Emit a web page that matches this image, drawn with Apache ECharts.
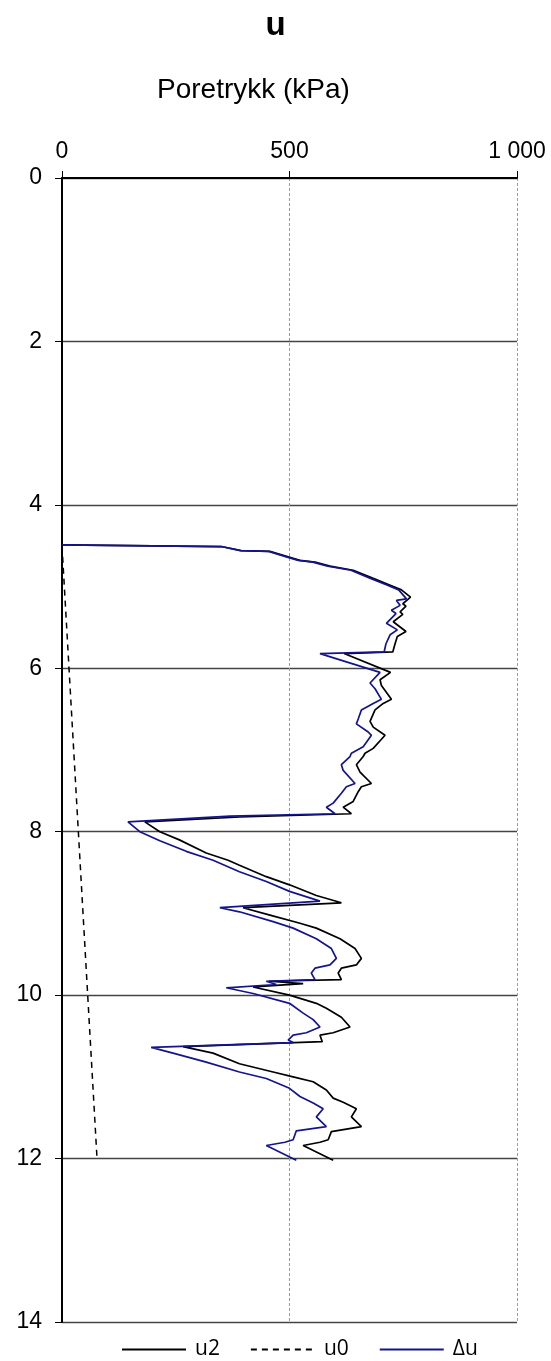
<!DOCTYPE html>
<html>
<head>
<meta charset="utf-8">
<style>
html,body{margin:0;padding:0;background:#fff;}
#chart{width:551px;height:1361px;}
</style>
<script src="https://cdn.jsdelivr.net/npm/echarts@6/dist/echarts.min.js"></script>
</head>
<body>
<div id="chart"></div>
<script>
// ---- data ----
var xTicks = [0, 500, 1000];
var yTicks = [0, 2, 4, 6, 8, 10, 12, 14];

// u2 (kPa) vs depth (m)
var u2Depth = [4.49,4.51,4.56,4.57,4.64,4.68,4.70,4.75,4.80,4.90,4.98,5.04,5.13,5.21,5.24,5.31,5.34,5.43,5.55,5.61,5.70,5.80,5.82,6.05,6.14,6.21,6.38,6.43,6.51,6.65,6.72,6.82,6.98,7.04,7.08,7.18,7.27,7.41,7.45,7.51,7.63,7.70,7.78,7.82,7.88,8.00,8.10,8.26,8.35,8.41,8.55,8.65,8.78,8.87,8.93,9.02,9.12,9.18,9.31,9.43,9.55,9.63,9.67,9.73,9.81,9.83,9.86,9.90,10.00,10.10,10.16,10.27,10.39,10.46,10.49,10.57,10.63,10.71,10.84,10.94,11.00,11.06,11.16,11.26,11.31,11.39,11.49,11.61,11.67,11.77,11.80,11.84,12.02];
var u2Value = [0,350,394,457,499,523,556,589,640,684,720,746,766,749,756,743,749,728,756,737,732,727,620,722,699,702,724,706,688,677,684,710,684,666,662,647,655,680,658,651,640,618,636,390,182,215,258,317,365,390,449,500,559,614,398,457,523,559,611,644,658,647,614,607,614,455,530,420,500,559,581,614,633,596,567,572,266,332,390,464,508,552,581,596,618,647,636,658,592,585,567,530,596];

// u0 (kPa) vs depth (m)
var u0Depth = [4.5, 12.0];
var u0Value = [0, 77];

// Δu (kPa) vs depth (m)
var duDepth = [4.49,4.51,4.56,4.57,4.64,4.68,4.70,4.75,4.80,4.90,4.98,5.04,5.15,5.17,5.23,5.29,5.33,5.45,5.53,5.59,5.70,5.80,5.82,6.05,6.18,6.25,6.38,6.43,6.51,6.62,6.68,6.78,6.82,6.96,7.04,7.08,7.18,7.25,7.41,7.45,7.53,7.65,7.70,7.78,7.81,7.88,8.00,8.11,8.24,8.35,8.49,8.61,8.73,8.85,8.93,8.98,9.10,9.18,9.31,9.43,9.55,9.63,9.67,9.73,9.81,9.83,9.87,9.91,9.98,10.10,10.22,10.30,10.39,10.46,10.49,10.55,10.58,10.64,10.71,10.82,10.94,11.02,11.14,11.24,11.32,11.39,11.49,11.61,11.66,11.77,11.80,11.84,12.02];
var duValue = [0,350,392,454,495,519,551,584,635,678,714,740,757,735,743,724,734,713,737,721,712,708,567,699,677,688,702,684,658,651,647,673,680,662,636,633,614,618,644,625,614,596,581,600,369,145,171,215,273,332,390,449,500,567,347,390,464,508,559,592,603,589,556,548,556,449,471,361,420,500,530,552,567,537,508,497,508,196,244,317,390,449,500,523,552,574,559,581,515,508,490,449,515];

function pairs(vals, depths){
  var out = [];
  for (var i = 0; i < vals.length; i++) out.push([vals[i], depths[i]]);
  return out;
}

var FONT = '"Liberation Sans", Arial, sans-serif';
var chart = echarts.init(document.getElementById('chart'), null, {renderer:'canvas'});
chart.setOption({
  animation: false,
  backgroundColor: '#ffffff',
  title: [
    {text: 'u', left: 'center', top: 4,
     textStyle: {fontFamily: FONT, fontSize: 33, fontWeight: 'bold', color: '#000'}},
    {text: 'Poretrykk (kPa)', left: 152, top: 71,
     textStyle: {fontFamily: FONT, fontSize: 28, fontWeight: 'normal', color: '#000'}}
  ],
  legend: {
    left: 121, top: 1339, padding: 0,
    itemWidth: 64, itemHeight: 14, itemGap: 30,
    itemStyle: {opacity: 0},
    textStyle: {fontFamily: '"Open Sans", sans-serif', fontSize: 21, color: '#000', padding: [0,0,0,4]},
    data: ['u2', 'u0', 'Δu']
  },
  grid: {left: 62, right: 34, top: 178, bottom: 39, containLabel: false},
  xAxis: {
    type: 'value', position: 'top', min: 0, max: 1000, interval: 500,
    axisLine: {show: true, onZero: false, lineStyle: {color: '#000', width: 2}},
    axisTick: {show: true, length: 7, lineStyle: {color: '#000', width: 1}},
    axisLabel: {fontFamily: FONT, fontSize: 23, color: '#000', margin: 15,
      formatter: function(v){ return v === 1000 ? '1 000' : String(v); }},
    splitLine: {show: true, lineStyle: {color: '#9a9a9a', width: 1, type: [3, 2]}}
  },
  yAxis: {
    type: 'value', inverse: true, min: 0, max: 14, interval: 2,
    axisLine: {show: true, onZero: false, lineStyle: {color: '#000', width: 2}},
    axisTick: {show: true, length: 7, lineStyle: {color: '#000', width: 1}},
    axisLabel: {fontFamily: FONT, fontSize: 23, color: '#000', margin: 20},
    splitLine: {show: true, lineStyle: {color: '#444', width: 1.3}}
  },
  series: [
    {name: 'u2', type: 'line', data: pairs(u2Value, u2Depth), symbol: 'none',
     lineStyle: {color: '#000', width: 1.7}, itemStyle: {color: '#000'}, z: 3},
    {name: 'u0', type: 'line', data: pairs(u0Value, u0Depth), symbol: 'none',
     lineStyle: {color: '#000', width: 1.5, type: [6, 5]}, itemStyle: {color: '#000'}, z: 2},
    {name: 'Δu', type: 'line', data: pairs(duValue, duDepth), symbol: 'none',
     lineStyle: {color: '#14148f', width: 1.7}, itemStyle: {color: '#14148f'}, z: 4}
  ]
});
</script>
</body>
</html>
